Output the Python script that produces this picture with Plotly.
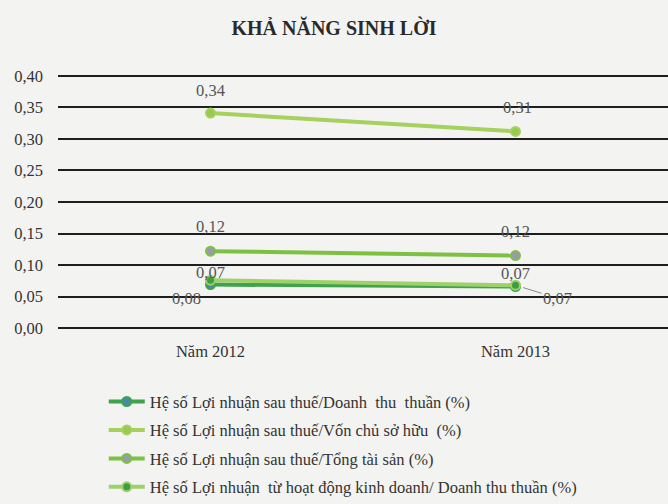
import plotly.graph_objects as go

categories = ["Năm 2012", "Năm 2013"]
series_names = [
    "Hệ số Lợi nhuận sau thuế/Doanh  thu  thuần (%)",
    "Hệ số Lợi nhuận sau thuế/Vốn chủ sở hữu  (%)",
    "Hệ số Lợi nhuận sau thuế/Tổng tài sản (%)",
    "Hệ số Lợi nhuận  từ hoạt động kinh doanh/ Doanh thu thuần (%)",
]
ros = [0.069, 0.066]
roe = [0.341, 0.312]
roa = [0.122, 0.115]
opm = [0.076, 0.068]
values = [ros, roe, roa, opm]

# label offsets in pixels (x, y) relative to each point, per series
label_offsets = [
    [(0, 12), (0, 13)],
    [(0, 23), (2, 24)],
    [(0, 25), (0, 24)],
    [(-24, -18), (42, -13)],
]
leader = [[False, False], [False, False], [False, False], [False, True]]

line_colors = ["#3fa24c", "#a6d15c", "#7dc143", "#9fd16a"]
marker_colors = ["#4a86b0", "#97ca50", "#9a9aae", "#3f9e3f"]

font_family = "Liberation Serif"
fs = 16.5

fig = go.Figure()
for i in range(4):
    fig.add_trace(go.Scatter(
        x=categories, y=values[i], name=series_names[i],
        mode="lines+markers",
        line=dict(color=line_colors[i], width=4),
        marker=dict(color=marker_colors[i], size=9, line=dict(color=line_colors[i], width=2)),
        legendgroup=str(i), cliponaxis=False,
    ))

for i in range(4):
    for j, cat in enumerate(categories):
        dx, dy = label_offsets[i][j]
        txt = f"{values[i][j]:.2f}".replace(".", ",")
        if leader[i][j]:
            fig.add_annotation(x=cat, y=values[i][j], text=txt, showarrow=True,
                               arrowhead=0, arrowwidth=1, arrowcolor="#888888",
                               ax=dx, ay=-dy, standoff=8,
                               font=dict(family=font_family, size=fs, color="#555555"))
        else:
            fig.add_annotation(x=cat, y=values[i][j], text=txt, showarrow=False,
                               xshift=dx, yshift=dy,
                               font=dict(family=font_family, size=fs, color="#555555"))

fig.update_layout(
    width=668, height=504,
    margin=dict(l=58, r=0, t=74, b=174, autoexpand=False),
    paper_bgcolor="#f3f3f1", plot_bgcolor="#f3f3f1",
    title=dict(text="<b>KHẢ NĂNG SINH LỜI</b>", x=0.5, xanchor="center", y=0.945, yanchor="middle",
               font=dict(family=font_family, size=20, color="#2a2a2a")),
    font=dict(family=font_family, size=fs, color="#333333"),
    separators=",.",
    showlegend=True,
    legend=dict(x=0.075, xanchor="left", y=-0.212, yanchor="top", tracegroupgap=4,
                font=dict(family=font_family, size=fs, color="#333333"),
                bgcolor="rgba(0,0,0,0)", itemwidth=36),
    xaxis=dict(type="category", range=[-0.5, 1.5], showgrid=False, showline=False, zeroline=False, ticks="",
               tickfont=dict(family=font_family, size=fs, color="#333333"), ticklabelstandoff=9),
    yaxis=dict(range=[-0.003, 0.403], tickvals=[0, 0.05, 0.1, 0.15, 0.2, 0.25, 0.3, 0.35, 0.4],
               tickformat=".2f", showgrid=True,
               gridcolor="#1e1e1e", gridwidth=1.5, zeroline=False, showline=False, ticks="",
               tickfont=dict(family=font_family, size=fs, color="#333333"), ticklabelstandoff=14),
)

fig.write_html("out.html")
